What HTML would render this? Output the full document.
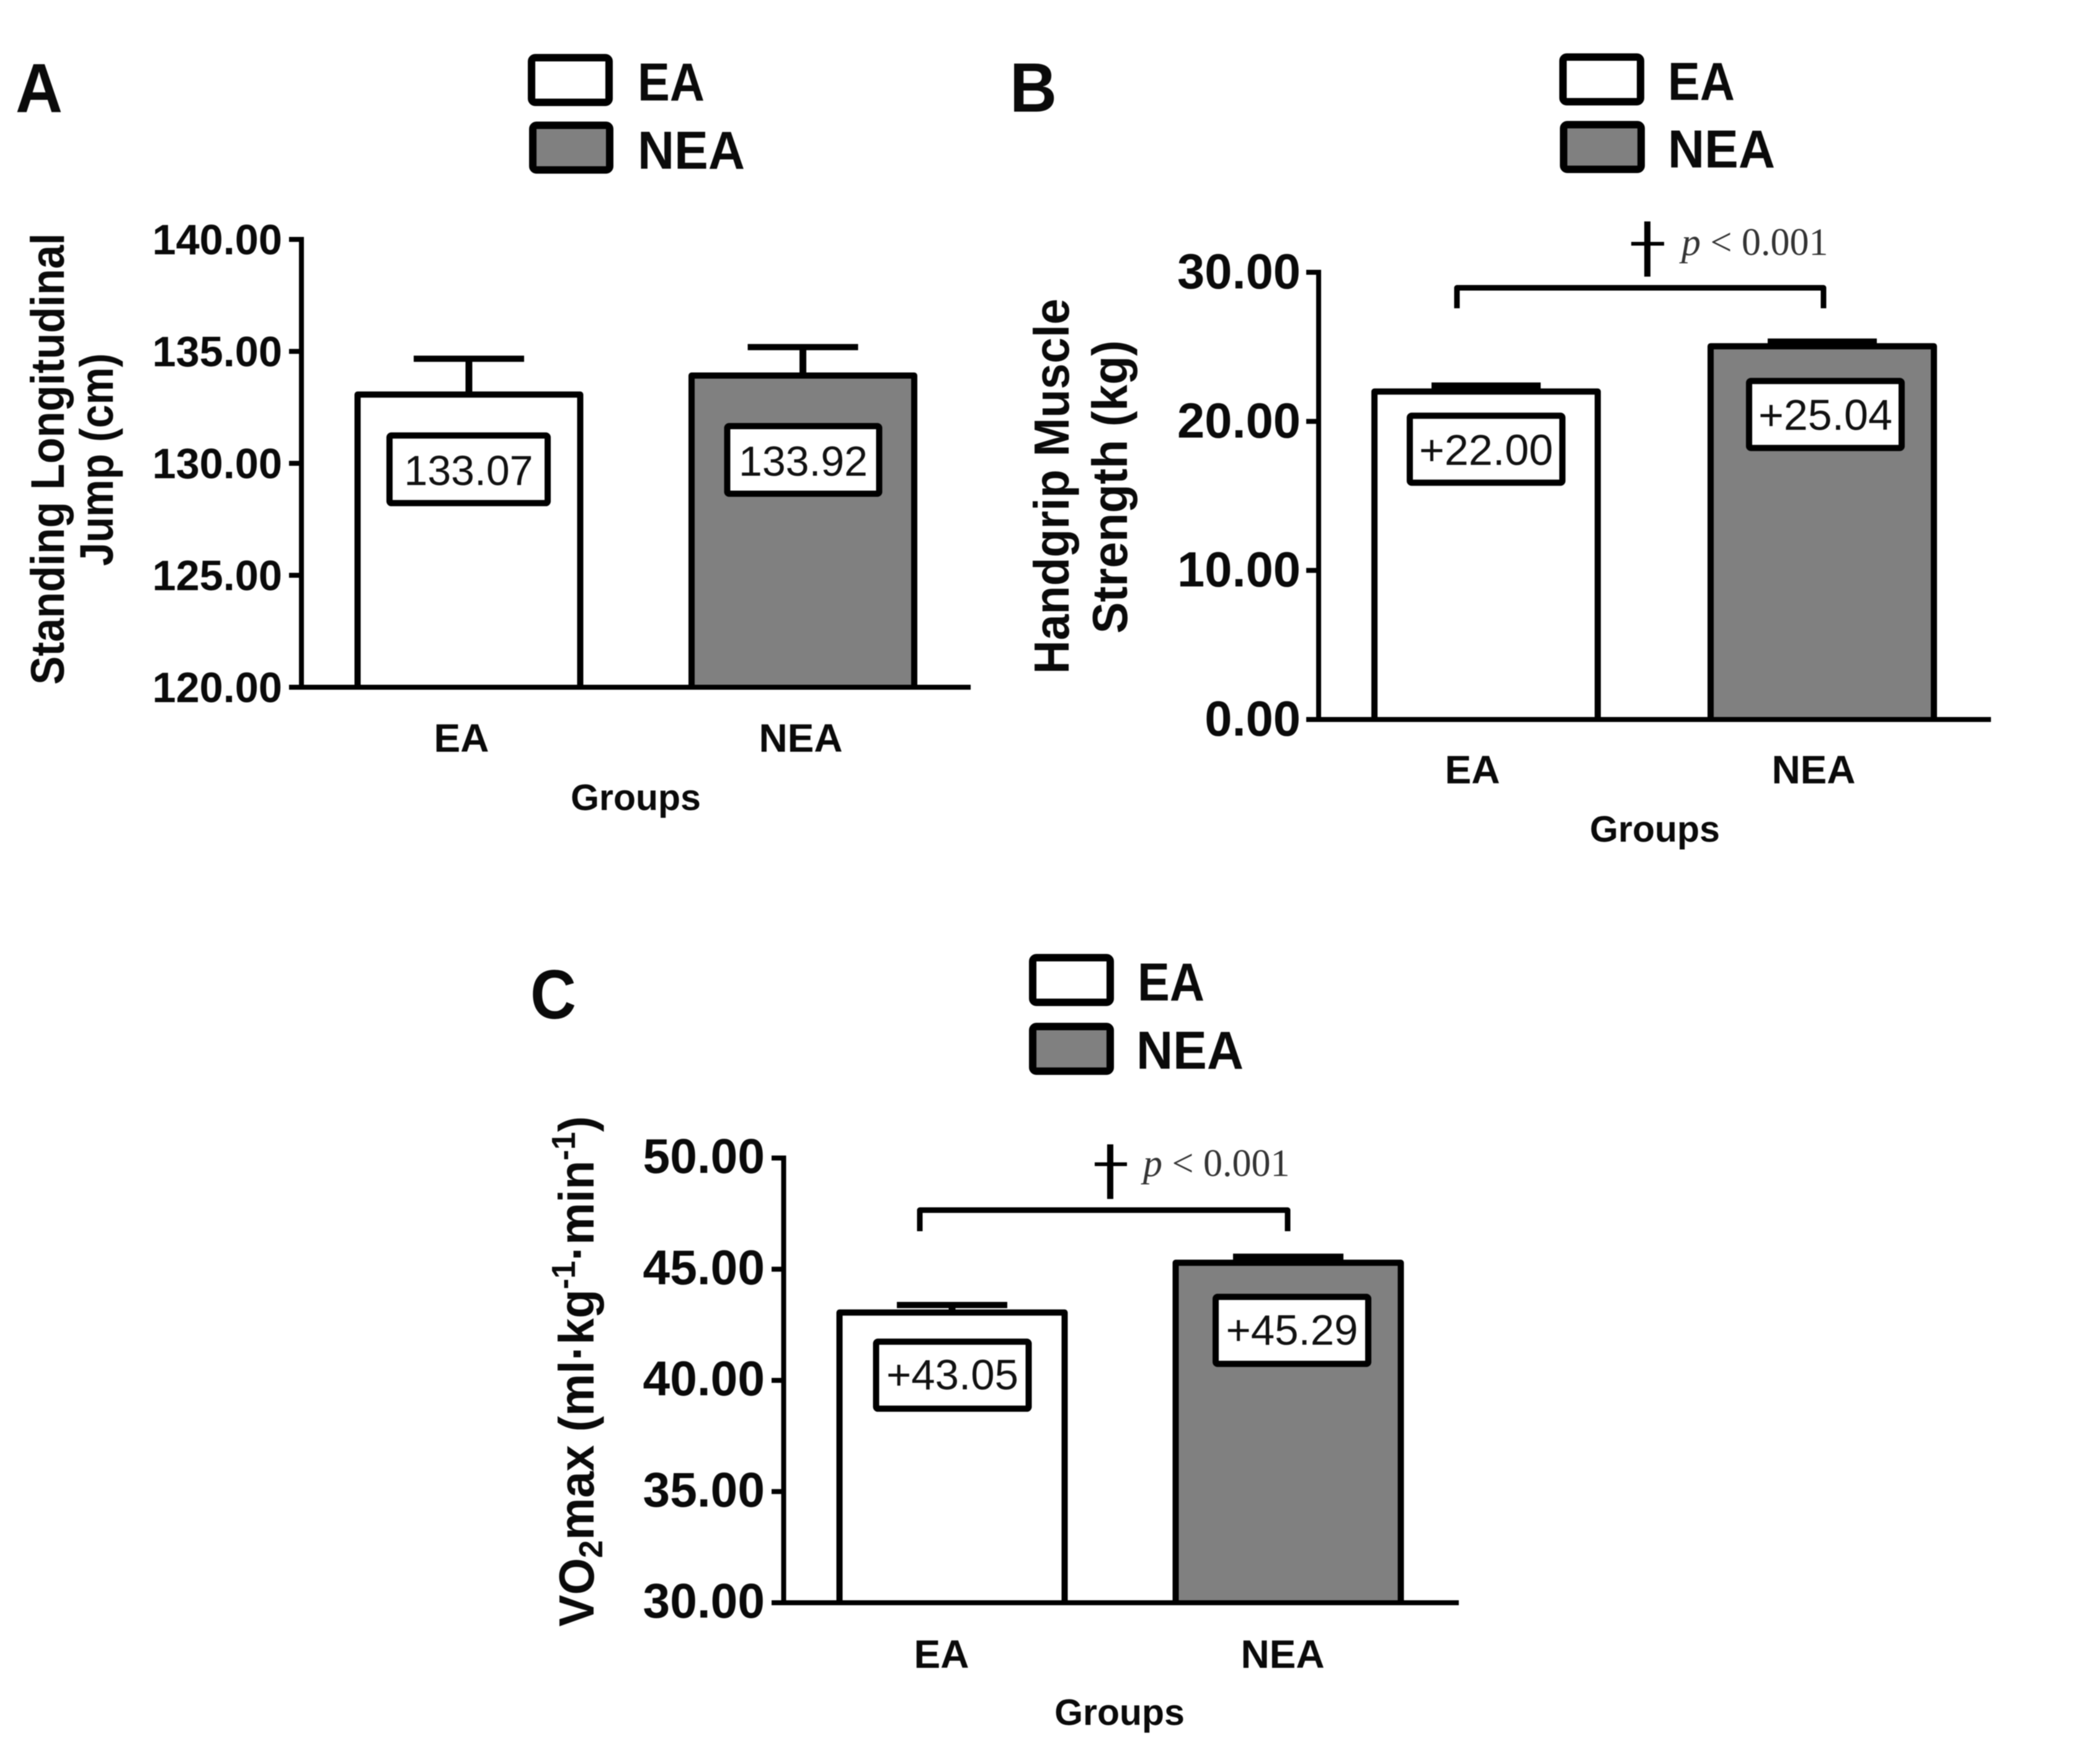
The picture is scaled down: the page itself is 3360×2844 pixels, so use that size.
<!DOCTYPE html>
<html lang="en">
<head>
<meta charset="utf-8">
<title>EA vs NEA fitness bar charts</title>
<style>
html,body{margin:0;padding:0;background:#fff;}
svg{display:block;font-family:"Liberation Sans",Arial,sans-serif;filter:blur(0.8px);}
.b{font-weight:700;fill:#0a0a0a;}
.serif{font-family:"Liberation Serif",serif;fill:#333;}
</style>
</head>
<body>
<svg id="figure" xmlns="http://www.w3.org/2000/svg" width="3360" height="2844" viewBox="0 0 3360 2844">
<rect width="3360" height="2844" fill="#fff"/>

<text class="b" x="25" y="181" font-size="112" textLength="76" lengthAdjust="spacingAndGlyphs">A</text>
<text class="b" x="1628" y="180" font-size="112" textLength="76" lengthAdjust="spacingAndGlyphs">B</text>
<text class="b" x="855" y="1642" font-size="112" textLength="74" lengthAdjust="spacingAndGlyphs">C</text>

<g>
<rect x="857" y="93" width="125" height="72" rx="6" fill="#fff" stroke="#000" stroke-width="12"/>
<text class="b" x="1028" y="162" font-size="86" textLength="108" lengthAdjust="spacingAndGlyphs">EA</text>
<rect x="859" y="202" width="124" height="72" rx="6" fill="#808080" stroke="#000" stroke-width="12"/>
<text class="b" x="1028" y="272" font-size="86" textLength="173" lengthAdjust="spacingAndGlyphs">NEA</text>
</g>
<g>
<rect x="2520" y="92" width="125" height="72" rx="6" fill="#fff" stroke="#000" stroke-width="12"/>
<text class="b" x="2689" y="161" font-size="86" textLength="108" lengthAdjust="spacingAndGlyphs">EA</text>
<rect x="2521" y="201" width="125" height="72" rx="6" fill="#808080" stroke="#000" stroke-width="12"/>
<text class="b" x="2689" y="270" font-size="86" textLength="173" lengthAdjust="spacingAndGlyphs">NEA</text>
</g>
<g>
<rect x="1665" y="1544" width="125" height="72" rx="6" fill="#fff" stroke="#000" stroke-width="12"/>
<text class="b" x="1834" y="1613" font-size="86" textLength="108" lengthAdjust="spacingAndGlyphs">EA</text>
<rect x="1665" y="1655" width="125" height="72" rx="6" fill="#808080" stroke="#000" stroke-width="12"/>
<text class="b" x="1832" y="1723" font-size="86" textLength="173" lengthAdjust="spacingAndGlyphs">NEA</text>
</g>

<text class="b" font-size="76" text-anchor="middle" textLength="728" lengthAdjust="spacingAndGlyphs" transform="translate(103,740) rotate(-90)">Standing Longitudinal</text>
<text class="b" font-size="76" text-anchor="middle" textLength="343" lengthAdjust="spacingAndGlyphs" transform="translate(182,741) rotate(-90)">Jump (cm)</text>
<text class="b" font-size="80" text-anchor="middle" textLength="605" lengthAdjust="spacingAndGlyphs" transform="translate(1723,784) rotate(-90)">Handgrip Muscle</text>
<text class="b" font-size="80" text-anchor="middle" textLength="473" lengthAdjust="spacingAndGlyphs" transform="translate(1817,785) rotate(-90)">Strength (kg)</text>
<text class="b" font-size="80" text-anchor="middle" textLength="823" lengthAdjust="spacingAndGlyphs" transform="translate(957,2211) rotate(-90)">VO<tspan dy="14" font-size="54">2</tspan><tspan dy="-14">max (ml·kg</tspan><tspan dy="-30" font-size="54">-1</tspan><tspan dy="30">·min</tspan><tspan dy="-30" font-size="54">-1</tspan><tspan dy="30">)</tspan></text>

<text class="b" x="1025" y="1306" font-size="59" text-anchor="middle">Groups</text>
<text class="b" x="2668" y="1357" font-size="59" text-anchor="middle">Groups</text>
<text class="b" x="1805" y="2781" font-size="59" text-anchor="middle">Groups</text>

<g>
<path d="M2349 497V464H2940V497" fill="none" stroke="#000" stroke-width="9" stroke-linejoin="round"/>
<g stroke="#000">
<line x1="2656" y1="357" x2="2656" y2="446" stroke-width="10"/>
<line x1="2630" y1="393" x2="2683" y2="393" stroke-width="6"/>
</g>
<text class="serif" x="2711" y="411" font-size="62"><tspan font-style="italic">p</tspan> &lt; 0.001</text>
</g>
<g>
<path d="M1483 1985V1951H2076V1985" fill="none" stroke="#000" stroke-width="9" stroke-linejoin="round"/>
<g stroke="#000">
<line x1="1790" y1="1845" x2="1790" y2="1933" stroke-width="10"/>
<line x1="1765" y1="1877" x2="1817" y2="1877" stroke-width="6"/>
</g>
<text class="serif" x="1843" y="1896" font-size="62"><tspan font-style="italic">p</tspan> &lt; 0.001</text>
</g>

<g id="charts"></g>
</svg>

<script>
const categories = ['EA', 'NEA'];
const barFills = ['#ffffff', '#808080'];

const panelATicks = [120, 125, 130, 135, 140];
const panelAMeans = [133.07, 133.92];
const panelAErrors = [1.60, 1.27];
const panelAValueLabels = ['133.07', '133.92'];

const panelBTicks = [0, 10, 20, 30];
const panelBMeans = [22.00, 25.04];
const panelBErrors = [0.40, 0.31];
const panelBValueLabels = ['+22.00', '+25.04'];

const panelCTicks = [30, 35, 40, 45, 50];
const panelCMeans = [43.05, 45.29];
const panelCErrors = [0.34, 0.27];
const panelCValueLabels = ['+43.05', '+45.29'];

const NS = 'http://www.w3.org/2000/svg';
const root = document.getElementById('charts');

function make(parent, tag, attrs, text) {
  const el = document.createElementNS(NS, tag);
  for (const k in attrs) el.setAttribute(k, attrs[k]);
  if (text !== undefined) el.textContent = text;
  parent.appendChild(el);
  return el;
}

function drawPanel(id, ticks, means, errors, valueLabels, L) {
  const min = ticks[0];
  const max = ticks[ticks.length - 1];
  const yScale = v => L.bottom - (v - min) / (max - min) * (L.bottom - L.top);
  const xScale = i => L.x0 + i * L.step;

  const g = make(root, 'g', {});
  
  

  means.forEach((m, i) => {
    const cx = xScale(i);
    const top = yScale(m);
    const capY = yScale(m + errors[i]);
    const left = cx - L.barW / 2;
    const right = cx + L.barW / 2;

    const stem = make(g, 'line', {x1: cx, x2: cx, y1: top, y2: capY, stroke: '#000', 'stroke-width': 11});
    
    

    const cap = make(g, 'line', {x1: cx - L.capHalf, x2: cx + L.capHalf, y1: capY, y2: capY, stroke: '#000', 'stroke-width': 10});
    
    

    const bar = make(g, 'path', {d: 'M' + left + ' ' + L.bottom + 'V' + top + 'H' + right + 'V' + L.bottom, fill: barFills[i], stroke: '#000', 'stroke-width': 10, 'stroke-linejoin': 'round'});
    
    

    const boxCx = cx + L.boxDx[i];
    const boxTop = top + L.boxDy[i];
    const box = make(g, 'rect', {x: boxCx - L.boxW[i] / 2 + 5, y: boxTop + 5, width: L.boxW[i] - 10, height: L.boxH - 10, fill: '#fff', stroke: '#000', 'stroke-width': 10, rx: 3});
    
    

    const val = make(g, 'text', {x: boxCx, y: boxTop + L.textDy, 'font-size': L.valueFont, 'text-anchor': 'middle', fill: '#111'}, valueLabels[i]);
    
    

    const label = make(g, 'text', {x: cx + L.labelDx[i], y: L.labelY, 'font-size': L.labelFont, 'text-anchor': 'middle', 'class': 'b'}, categories[i]);
    
    
  });

  const yAxis = make(g, 'line', {x1: L.axisX, x2: L.axisX, y1: L.top - 4, y2: L.bottom, stroke: '#000', 'stroke-width': 8});
  
  

  const xAxis = make(g, 'line', {x1: L.tickLeft, x2: L.right, y1: L.bottom, y2: L.bottom, stroke: '#000', 'stroke-width': 8});
  
  

  ticks.forEach(t => {
    const y = yScale(t);
    const tick = make(g, 'line', {x1: L.tickLeft, x2: L.axisX, y1: y, y2: y, stroke: '#000', 'stroke-width': 8});
    
    

    const tl = make(g, 'text', {x: L.tickRight, y: y + L.tickDy, 'font-size': L.tickFont, 'text-anchor': 'end', 'class': 'b'}, t.toFixed(2));
    
    
  });
}

drawPanel('panel-a-chart', panelATicks, panelAMeans, panelAErrors, panelAValueLabels, {
  top: 386, bottom: 1108, axisX: 486, tickLeft: 466, right: 1565,
  x0: 756, step: 538.5, barW: 359, capHalf: 89,
  tickFont: 68.5, tickRight: 455, tickDy: 24,
  boxDx: [-0.5, 0.5], boxDy: [61, 76.5], boxW: [265, 255], boxH: 119, textDy: 85, valueFont: 68,
  labelDx: [-12, -3.5], labelY: 1212, labelFont: 64
});
drawPanel('panel-b-chart', panelBTicks, panelBMeans, panelBErrors, panelBValueLabels, {
  top: 439, bottom: 1160, axisX: 2126, tickLeft: 2106, right: 3210,
  x0: 2396, step: 542, barW: 360, capHalf: 88,
  tickFont: 79.5, tickRight: 2097, tickDy: 26,
  boxDx: [0, 5], boxDy: [34, 51], boxW: [256, 256], boxH: 118, textDy: 84, valueFont: 70,
  labelDx: [-22, -14], labelY: 1263, labelFont: 64
});
drawPanel('panel-c-chart', panelCTicks, panelCMeans, panelCErrors, panelCValueLabels, {
  top: 1867, bottom: 2584, axisX: 1263.5, tickLeft: 1244, right: 2352,
  x0: 1535, step: 542, barW: 363, capHalf: 89,
  tickFont: 78.5, tickRight: 1233, tickDy: 24,
  boxDx: [0.5, 6], boxDy: [42, 50], boxW: [256, 256], boxH: 118, textDy: 82, valueFont: 69,
  labelDx: [-17, -9], labelY: 2689, labelFont: 64
});
</script>
</body>
</html>
